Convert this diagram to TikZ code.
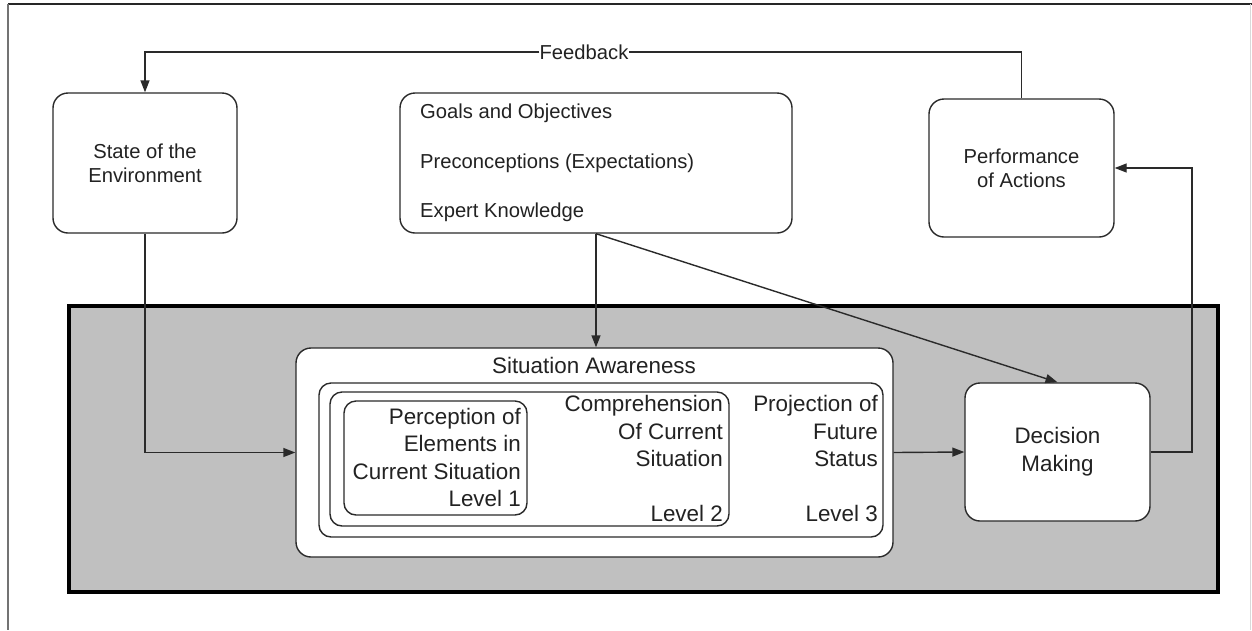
\documentclass[tikz,border=0pt]{standalone}
\usepackage{fontspec}
\setmainfont{Liberation Sans}
\usetikzlibrary{arrows.meta}
\definecolor{panelgray}{HTML}{C0C0C0}
\definecolor{linec}{HTML}{2A2A2A}
\definecolor{textc}{HTML}{222222}
\begin{document}
\begin{tikzpicture}[x=1pt,y=-1pt,
  box/.style={draw=linec, line width=1.4pt, fill=white, rounded corners=15pt, inner sep=0pt, align=center},
  lvlbox/.style={draw=linec, line width=1.4pt, fill=white, rounded corners=12pt, inner sep=0pt},
  lbl/.style={font=\fontsize{20.2}{24}\selectfont, text=textc},
  inlbl/.style={font=\fontsize{22.4}{27.5}\selectfont, text=textc},
  conn/.style={draw=linec, line width=1.4pt, -{Triangle[length=12pt,width=9pt]}},
  plain/.style={draw=linec, line width=1.4pt},
]
\useasboundingbox (0,0) rectangle (1252,630);
\fill[white] (0,0) rectangle (1252,630);
% page frame
\draw[line width=2pt, black!85] (8,4) -- (1252,4);
\draw[line width=1.5pt, black!55] (8,4) -- (8,630);
\draw[line width=1pt, black!15] (1250,4) -- (1250,630);

% shaded panel holding the awareness process
\node[draw=black, line width=4pt, fill=panelgray, minimum width=1149pt, minimum height=286pt, inner sep=0pt] (panel) at (643.5,449) {};

% upper row
\node[box, lbl, minimum width=184pt, minimum height=140pt] (state) at (145,163) {State of the\\Environment};
\node[box, minimum width=392pt, minimum height=140pt] (goals) at (596,163) {};
\node[lbl, anchor=west, inner sep=0pt] (g1) at (420,113) {Goals and Objectives};
\node[lbl, anchor=west, inner sep=0pt] (g2) at (420,163) {Preconceptions (Expectations)};
\node[lbl, anchor=west, inner sep=0pt] (g3) at (420,212) {Expert Knowledge};
\node[box, lbl, minimum width=185pt, minimum height=138pt] (perf) at (1021.5,168) {Performance\\of Actions};

% situation awareness with its three nested levels
\node[box, minimum width=597pt, minimum height=209pt] (sa) at (594.5,452.5) {};
\node[inlbl, inner sep=0pt] (satitle) at (594,365) {Situation Awareness};
\node[lvlbox, minimum width=564pt, minimum height=154pt] (l3) at (601,460) {};
\node[lvlbox, minimum width=399pt, minimum height=134pt] (l2) at (529.5,459) {};
\node[lvlbox, minimum width=183pt, minimum height=114pt] (l1) at (435.5,458) {};
\node[inlbl, font=\fontsize{22.4}{27.2}\selectfont, align=right, anchor=east, inner sep=0pt] (t1) at (521,457.5) {Perception of\\Elements in\\Current Situation\\Level 1};
\node[inlbl, align=right, anchor=east, inner sep=0pt] (t2) at (723,431) {Comprehension\\Of Current\\Situation};
\node[inlbl, anchor=east, inner sep=0pt] (t2b) at (723,513) {Level 2};
\node[inlbl, align=right, anchor=east, inner sep=0pt] (t3) at (878,431) {Projection of\\Future\\Status};
\node[inlbl, anchor=east, inner sep=0pt] (t3b) at (878,513) {Level 3};

\node[box, inlbl, font=\fontsize{22.4}{28}\selectfont, minimum width=185pt, minimum height=138pt] (dec) at (1057.5,452) {Decision\\Making};

% connectors
\node[lbl, fill=white, inner xsep=0pt, inner ysep=2pt] (fb) at (584,52) {Feedback};
\draw[plain] (perf.north) |- (fb.east);
\draw[conn] (fb.west) -| (state.north);
\draw[conn] (state.south) |- (sa.west);
\draw[conn] (goals.south) -- (goals.south |- sa.north);
\draw[conn] (goals.south) -- (dec.north);
\draw[conn] (sa.east) -- (dec.west);
\coordinate (turn) at (1192,452);
\draw[conn] (dec.east) -- (turn) |- (perf.east);
\end{tikzpicture}
\end{document}
